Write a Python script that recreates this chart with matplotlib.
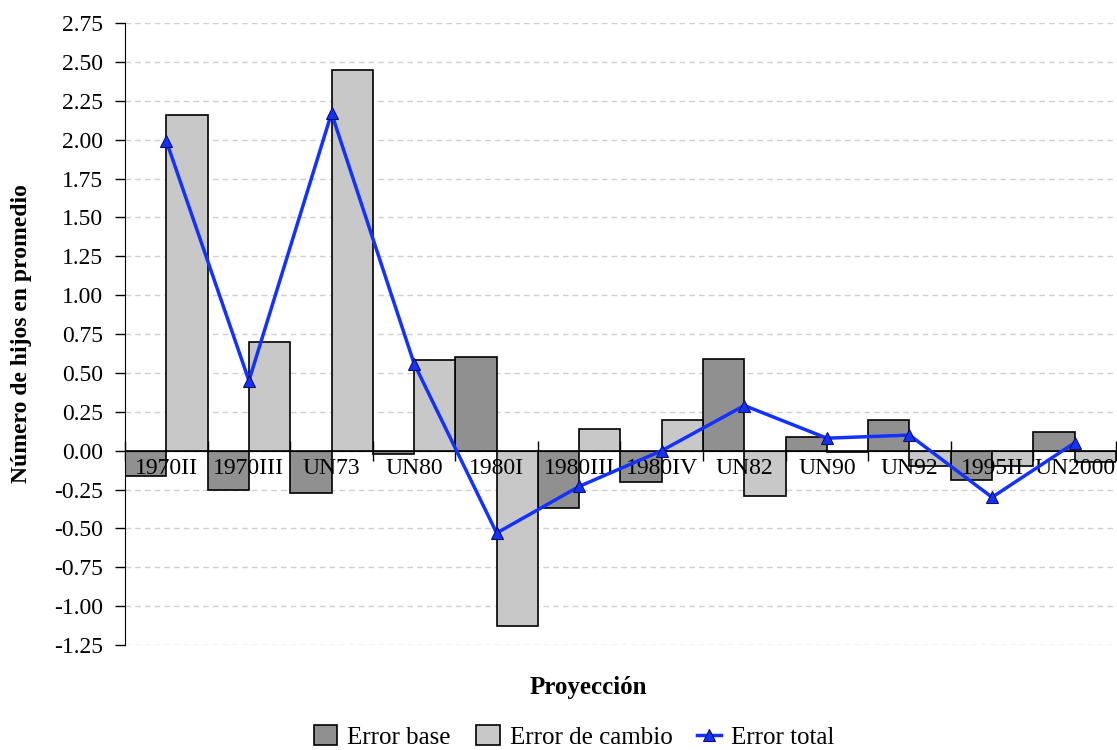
import matplotlib.pyplot as plt
import numpy as np
from matplotlib.transforms import offset_copy

plt.rcParams['font.family'] = ['Liberation Serif', 'DejaVu Serif']

proyecciones = ["1970II", "1970III", "UN73", "UN80", "1980I", "1980III",
                "1980IV", "UN82", "UN90", "UN92", "1995II", "UN2000"]
error_base = [-0.16, -0.25, -0.27, -0.02, 0.60, -0.37,
              -0.20, 0.59, 0.09, 0.20, -0.19, 0.12]
error_cambio = [2.16, 0.70, 2.45, 0.58, -1.13, 0.14,
                0.20, -0.29, -0.01, -0.10, -0.10, -0.07]
error_total = [1.99, 0.45, 2.17, 0.56, -0.53, -0.23,
               0.00, 0.29, 0.08, 0.10, -0.30, 0.05]

fig = plt.figure(figsize=(11.17, 7.5), dpi=100)
ax = fig.add_axes([0.112, 0.14, 0.887, 0.8293])

x = np.arange(len(proyecciones))
w = 0.5
b1 = ax.bar(x - w / 2, error_base, width=w, color="#909090", edgecolor="black",
            linewidth=1.2, zorder=2, label="Error base")
b2 = ax.bar(x + w / 2, error_cambio, width=w, color="#c8c8c8", edgecolor="black",
            linewidth=1.2, zorder=2, label="Error de cambio")
l1, = ax.plot(x, error_total, color="#1432ff", linewidth=2.5, marker="^",
              markersize=8, markerfacecolor="#1432ff", markeredgecolor="#101060",
              markeredgewidth=0.8, zorder=6, label="Error total")

ax.set_xlim(-0.5, len(proyecciones) - 0.5)
ax.set_ylim(-1.25, 2.75)
yt = np.arange(-1.25, 2.76, 0.25)
ax.set_yticks(yt)
ax.set_yticklabels([f"{v:.2f}" for v in yt])
ax.yaxis.grid(True, linestyle=(0, (4, 3)), color="#d0d0d0", linewidth=1, zorder=0)
ax.set_axisbelow(True)

# x axis sits on the zero line, ticks at category boundaries
ax.spines['bottom'].set_position(('data', 0))
ax.spines['bottom'].set_zorder(3)
ax.spines['top'].set_visible(False)
ax.spines['right'].set_visible(False)
ax.set_xticks(np.arange(-0.5, len(proyecciones), 1.0))
ax.set_xticklabels([])
ax.tick_params(axis='x', direction='inout', length=14, width=1)
ax.tick_params(axis='y', direction='out', length=7, width=1, labelsize=17, pad=9)

# category labels drawn over the bars
trans = offset_copy(ax.transData, fig=fig, x=0, y=-5, units='points')
for xi, name in zip(x, proyecciones):
    ax.text(xi, 0, name, transform=trans, ha="center", va="top",
            fontsize=17, zorder=5)

ax.set_ylabel("Número de hijos en promedio", fontsize=17, fontweight="bold")
ax.yaxis.set_label_coords(-0.094, 0.5)
fig.text(0.527, 0.083, "Proyección", fontsize=18, fontweight="bold", ha="center", va="center")

fig.legend(handles=[b1, b2, l1], loc="center", bbox_to_anchor=(0.514, 0.017), ncol=3,
           frameon=False, fontsize=18, handlelength=0.95, handleheight=0.85,
           handletextpad=0.4, columnspacing=1.0)

fig.savefig("out.png", dpi=100)
